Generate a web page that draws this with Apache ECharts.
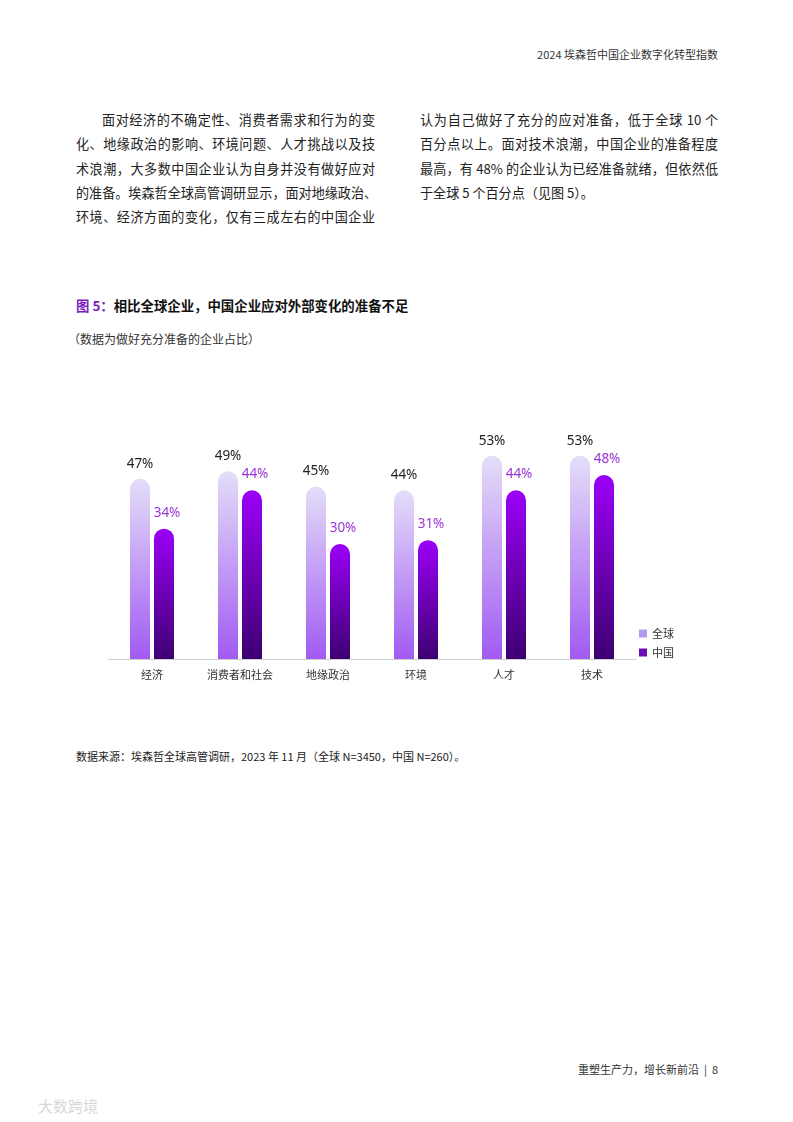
<!DOCTYPE html>
<html>
<head>
<meta charset="utf-8">
<script src="https://cdn.jsdelivr.net/npm/echarts@6/dist/echarts.min.js"></script>
<style>
  html, body { margin:0; padding:0; background:#fff; }
  body { width:793px; height:1122px; position:relative; overflow:hidden;
         font-family:"Noto Sans CJK SC","Noto Sans",sans-serif; color:#222; }
  .t { position:absolute; white-space:nowrap; }
  .line { position:absolute; font-size:13.1px; line-height:20px; height:20px; color:#222;
          text-align:justify; text-align-last:justify; white-space:nowrap; }
  #chart { position:absolute; left:0; top:380px; width:793px; height:320px; }
</style>
</head>
<body>
<div class="t" style="right:75px; top:46px; font-size:11px; color:#333;">2024 埃森哲中国企业数字化转型指数</div>

<div id="body"></div>

<div class="t" style="left:76px; top:295px; font-size:13.4px; font-weight:bold; color:#111;"><span style="color:#7a1fc0;">图 5：</span>相比全球企业，中国企业应对外部变化的准备不足</div>
<div class="t" style="left:68px; top:330px; font-size:12px; color:#333;">（数据为做好充分准备的企业占比）</div>

<div id="chart"></div>

<div class="t" style="left:76px; top:748px; font-size:11px; color:#222;">数据来源：埃森哲全球高管调研，2023 年 11 月（全球 N=3450，中国 N=260）。</div>

<div class="t" style="right:75px; top:1061px; font-size:11px; color:#333;">重塑生产力，增长新前沿 &nbsp;|&nbsp; 8</div>
<div class="t" style="left:38px; top:1095px; font-size:15px; color:#d8d8d8;">大数跨境</div>

<script>
const leftLines = [
  "面对经济的不确定性、消费者需求和行为的变",
  "化、地缘政治的影响、环境问题、人才挑战以及技",
  "术浪潮，大多数中国企业认为自身并没有做好应对",
  "的准备。埃森哲全球高管调研显示，面对地缘政治、",
  "环境、经济方面的变化，仅有三成左右的中国企业"
];
const rightLines = [
  "认为自己做好了充分的应对准备，低于全球 10 个",
  "百分点以上。面对技术浪潮，中国企业的准备程度",
  "最高，有 48% 的企业认为已经准备就绪，但依然低",
  "于全球 5 个百分点（见图 5）。"
];
const categories = ["经济", "消费者和社会", "地缘政治", "环境", "人才", "技术"];
const globalValues = [47, 49, 45, 44, 53, 53];
const chinaValues = [34, 44, 30, 31, 44, 48];

// body text
(function(){
  const host = document.getElementById('body');
  const lh = 24.3, top0 = 110;
  leftLines.forEach((s, i) => {
    const d = document.createElement('div');
    d.className = 'line';
    d.textContent = s;
    const l = i === 0 ? 102 : 76;
    d.style.left = l + 'px';
    d.style.width = (375 - l) + 'px';
    d.style.top = (top0 + i * lh) + 'px';
    host.appendChild(d);
  });
  rightLines.forEach((s, i) => {
    const d = document.createElement('div');
    d.className = 'line';
    d.textContent = s;
    d.style.left = '420px';
    if (i < rightLines.length - 1) {
      d.style.width = '298px';
    } else {
      d.style.textAlignLast = 'left';
      d.style.textAlign = 'left';
    }
    d.style.top = (top0 + i * lh) + 'px';
    host.appendChild(d);
  });
})();

const chart = echarts.init(document.getElementById('chart'), null, {renderer:'canvas'});
const gGlobal = new echarts.graphic.LinearGradient(0,0,0,1,[
  {offset:0, color:'#e4def8'}, {offset:1, color:'#a15af2'}]);
const gChina = new echarts.graphic.LinearGradient(0,0,0,1,[
  {offset:0, color:'#9b00f7'}, {offset:1, color:'#3e0072'}]);

chart.setOption({
  animation:false,
  textStyle:{fontFamily:'"Noto Sans CJK SC","Noto Sans",sans-serif'},
  grid:{left:108, width:528, top:49, height:230},
  legend:{
    orient:'vertical', left:634, top:243, itemWidth:8, itemHeight:8, itemGap:8,
    icon:'rect',
    textStyle:{fontSize:11, color:'#333'},
    data:[
      {name:'全球', itemStyle:{color:'#b59af0'}},
      {name:'中国', itemStyle:{color:'#6a0db5'}}
    ]
  },
  xAxis:{
    type:'category', data:categories,
    axisLine:{lineStyle:{color:'#cfcfcf', width:1}},
    axisTick:{show:false},
    axisLabel:{color:'#333', fontSize:11, margin:10}
  },
  yAxis:{type:'value', min:0, max:60, show:false, splitLine:{show:false}},
  series:[
    {
      name:'全球', type:'bar', data:globalValues, barWidth:20, barGap:'20%',
      itemStyle:{color:gGlobal, borderRadius:[10,10,0,0]},
      label:{show:true, position:'top', distance:8, formatter:'{c}%', color:'#222', fontSize:13.5,
             fontFamily:'"Noto Sans",sans-serif'}
    },
    {
      name:'中国', type:'bar', data:chinaValues, barWidth:20,
      itemStyle:{color:gChina, borderRadius:[10,10,0,0]},
      label:{show:true, position:'top', distance:9, offset:[3,0], formatter:'{c}%', color:'#9b35d8', fontSize:13.5,
             fontFamily:'"Noto Sans",sans-serif'}
    }
  ]
});
</script>
</body>
</html>
